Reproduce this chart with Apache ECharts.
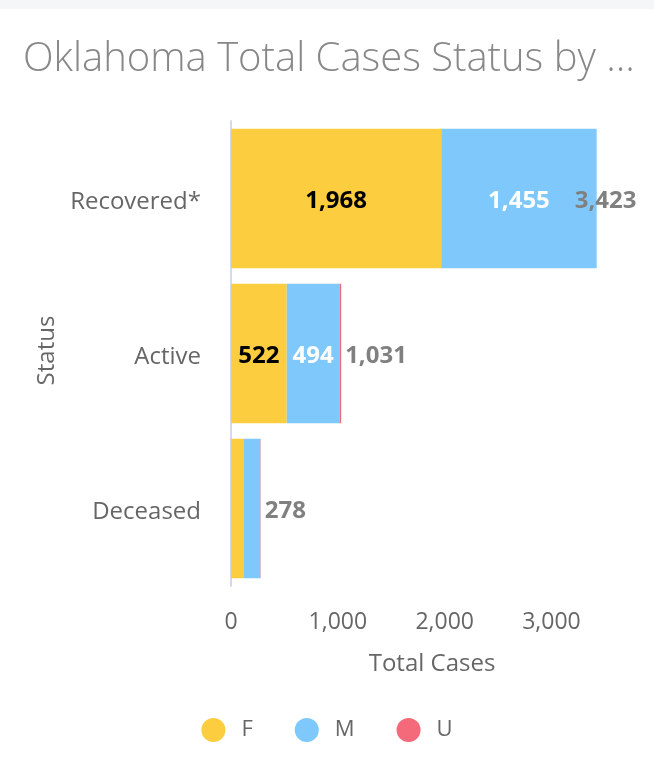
<!DOCTYPE html>
<html><head><meta charset="utf-8">
<script src="https://cdn.jsdelivr.net/npm/echarts@6/dist/echarts.min.js"></script>
<style>html,body{margin:0;padding:0;background:#fff;}#top{height:9px;background:#f5f6f8;}#c{width:654px;height:784px;position:absolute;left:0;top:0;}</style>
</head><body><div id="top"></div><div id="c"></div>
<script>
const categories = ['Recovered*', 'Active', 'Deceased'];
const seriesNames = ['F', 'M', 'U'];
const valuesF = [1968, 522, 122];
const valuesM = [1455, 494, 153];
const valuesU = [0, 15, 3];
const totals = [3423, 1031, 278];
const xTicks = [0, 1000, 2000, 3000];

const colors = ['#fccd3e', '#7ec8fb', '#f46a7a'];
const labelColors = ['#000', '#fff', '#fff'];
const font = '"Open Sans", "Noto Sans", sans-serif';

function segData(vals, idx) {
  return vals.map(v => ({
    value: v,
    label: {show: v > 300, color: labelColors[idx]}
  }));
}
const segs = [valuesF, valuesM, valuesU];
const series = segs.map((vals, i) => ({
  name: seriesNames[i], type: 'bar', stack: 'total',
  barCategoryGap: '10%',
  itemStyle: {color: colors[i]},
  label: {position: 'inside', offset: [0, 3], fontFamily: font, fontWeight: 'bold', fontSize: 24,
    formatter: p => p.value.toLocaleString('en-US')},
  data: segData(vals, i)
}));
series.push({
  name: 'Total', type: 'bar', barGap: '-100%', z: 5, silent: true,
  itemStyle: {color: 'rgba(0,0,0,0)'},
  label: {show: true, position: 'right', distance: 4, offset: [0, 3], color: '#808080', fontFamily: font,
    fontWeight: 'bold', fontSize: 24, formatter: p => p.value.toLocaleString('en-US')},
  data: totals.map((v, i) => i === 0 ? {value: v, label: {offset: [-26, 3]}} : v)
});

const chart = echarts.init(document.getElementById('c'));
chart.setOption({
  animation: false,
  title: {text: 'Oklahoma Total Cases Status by ...', left: 18, top: 35,
    textStyle: {fontFamily: font, fontWeight: 300, fontSize: 40, color: '#888'}},
  legend: {data: seriesNames, top: 713, left: 'center', icon: 'circle', itemWidth: 24, itemHeight: 24, itemGap: 42,
    textStyle: {fontFamily: font, fontSize: 22, color: '#666', padding: [0, 0, 0, 11]}},
  grid: {left: 231, right: 21, top: 121, bottom: 198},
  xAxis: {type: 'value', min: 0, max: 3763, interval: 1000,
    name: 'Total Cases', nameLocation: 'middle', nameGap: 66,
    nameTextStyle: {fontFamily: font, fontSize: 24, color: '#666'},
    axisLine: {show: false}, axisTick: {show: false}, splitLine: {show: false},
    axisLabel: {showMaxLabel: false, margin: 25, fontFamily: font, fontSize: 23, color: '#666',
      formatter: v => xTicks.includes(v) ? v.toLocaleString('en-US') : ''}},
  yAxis: {type: 'category', data: categories, inverse: true,
    name: 'Status', nameLocation: 'middle', nameGap: 172, nameRotate: 90,
    nameTextStyle: {fontFamily: font, fontSize: 24, color: '#666', padding: [0, 0, 0, 6]},
    axisLine: {show: true, lineStyle: {color: '#d5d9ee', width: 2}}, axisTick: {show: false},
    axisLabel: {margin: 30, formatter: v => '{a|' + v + '}',
      rich: {a: {fontFamily: font, fontSize: 24, color: '#666', padding: [7, 0, 0, 0]}}}},
  series: series
});
</script></body></html>
